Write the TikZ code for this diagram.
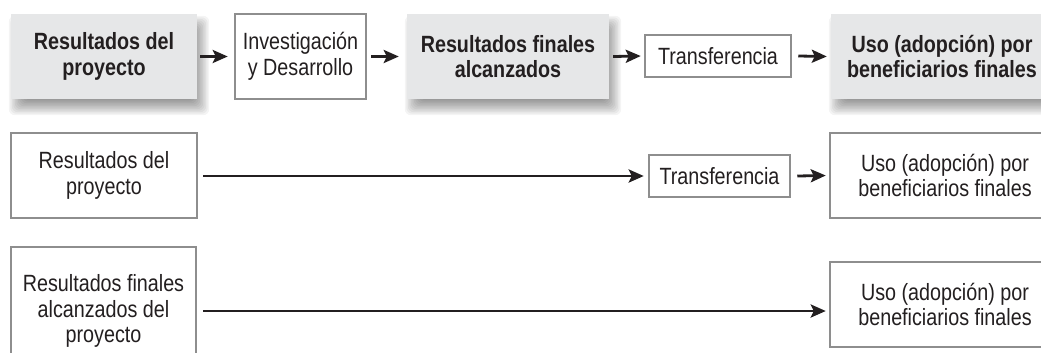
\documentclass[tikz,border=0pt]{standalone}
\usepackage{fontspec}
\setmainfont{Liberation Sans}[FakeStretch=0.84]
\usetikzlibrary{arrows.meta}
\definecolor{boxgray}{HTML}{E6E7E8}
\definecolor{edgegray}{HTML}{8E8E8E}
\definecolor{ink}{HTML}{231F20}
\pgfdeclarelayer{bg}
\pgfsetlayers{bg,main}
\tikzset{
  txt/.style={font=\fontsize{23.5}{25.5}\selectfont, text=ink, align=center, inner sep=0pt},
  graybox/.style={txt, font=\fontsize{23.5}{25.5}\selectfont\bfseries, fill=boxgray},
  whitebox/.style={txt, draw=edgegray, line width=2.5pt, fill=white},
  arr/.style={draw=ink, line width=2.8pt, -{Stealth[length=15pt,width=13pt,inset=3pt]}},
}
\newcommand{\softshadow}[1]{%
  \foreach \s in {-8,-6.5,...,8}{%
    \fill[black, opacity=0.045, rounded corners=6pt]
      ([xshift=5pt-\s pt, yshift=-9pt-\s pt]#1.south west) rectangle
      ([xshift=5pt+\s pt, yshift=-9pt+\s pt]#1.north east);
  }%
}
\begin{document}
\begin{tikzpicture}[x=1pt,y=-1pt]
\useasboundingbox (0,0) rectangle (1041,353);
\clip (0,0) rectangle (1041,353);
% row 1
\node[graybox, minimum width=186pt, minimum height=85pt] (A) at (104,56.5) {Resultados del\\proyecto};
\node[whitebox, minimum width=131pt, minimum height=85pt] (B) at (300.5,56.5) {Investigación\\y Desarrollo};
\node[graybox, minimum width=202pt, minimum height=85pt] (C) at (508,56.5) {Resultados finales\\alcanzados};
\node[whitebox, minimum width=146pt, minimum height=42pt] (D) at (718,56) {Transferencia};
\node[graybox, minimum width=222pt, minimum height=85pt] (E) at (942,56.5) {Uso (adopción) por\\beneficiarios finales};
\begin{pgfonlayer}{bg}
\fill[white] (0,0) rectangle (1041,353);
\softshadow{A}
\softshadow{C}
\softshadow{E}
\end{pgfonlayer}
\draw[arr] ([xshift=3pt]A.east) -- ([xshift=-6pt]B.west);
\draw[arr] ([xshift=4pt]B.east) -- ([xshift=-8pt]C.west);
\draw[arr] ([xshift=4pt]C.east) -- ([xshift=-3pt]D.west);
\draw[arr] ([xshift=6pt]D.east) -- ([xshift=-4pt]E.west);
% row 2
\node[whitebox, minimum width=186pt, minimum height=85pt] (F) at (104,175.5) {Resultados del\\proyecto};
\node[whitebox, minimum width=141pt, minimum height=42pt] (G) at (719.5,176) {Transferencia};
\node[whitebox, minimum width=230pt, minimum height=85pt] (H) at (945,175.5) {Uso (adopción) por\\beneficiarios finales};
\coordinate (s2) at (203,176);
\draw[arr] (s2) -- ([xshift=-4pt]G.west);
\draw[arr] ([xshift=6pt]G.east) -- ([xshift=-3pt]H.west);
% row 3
\node[whitebox, minimum width=185pt, minimum height=128pt] (I) at (103.5,311) {Resultados finales\\alcanzados del\\proyecto};
\node[whitebox, minimum width=230pt, minimum height=85pt] (J) at (945,304.5) {Uso (adopción) por\\beneficiarios finales};
\coordinate (s3) at (203,311);
\draw[arr] (s3) -- ([xshift=-3pt]s3 -| J.west);
\end{tikzpicture}
\end{document}
